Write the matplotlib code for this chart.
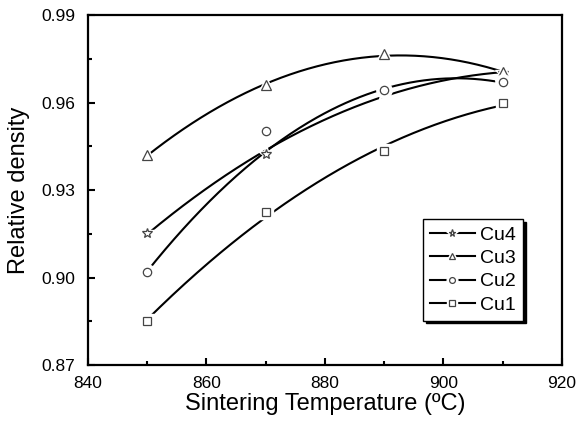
## Import libraries
import numpy as np
import matplotlib
matplotlib.use("Agg")
import matplotlib.pyplot as plt
from matplotlib.legend_handler import HandlerTuple
from matplotlib.ticker import MultipleLocator

plt.rcParams['font.family'] = ['Liberation Sans', 'DejaVu Sans']

## Data
temps = [850, 870, 890, 910]
cu4 = [0.9153, 0.9423, 0.9635, 0.9700]
cu3 = [0.9420, 0.9659, 0.9766, 0.9704]
cu2 = [0.9020, 0.9504, 0.9643, 0.9670]
cu1 = [0.8850, 0.9225, 0.9433, 0.9597]
labels = ['Cu4', 'Cu3', 'Cu2', 'Cu1']
# weight of each point in the quadratic fit (the 870 circle sits off its curve)
fit_weights = {'Cu4': [1, 1, 1, 1], 'Cu3': [1, 1, 1, 1],
               'Cu2': [1, 0.25, 1, 1], 'Cu1': [1, 1, 1, 1]}

series = {'Cu4': cu4, 'Cu3': cu3, 'Cu2': cu2, 'Cu1': cu1}
markers = {'Cu4': ('*', 7.5), 'Cu3': ('^', 7), 'Cu2': ('o', 6), 'Cu1': ('s', 5.5)}

## Figure
fig = plt.figure(figsize=(5.78, 4.33), dpi=100)
ax = fig.add_axes([0.1522, 0.157, 0.820, 0.808])

handles = []
for i, name in enumerate(labels):
    vals = series[name]
    mk, ms = markers[name]
    coef = np.polyfit(temps, vals, 2, w=fit_weights[name])
    xs = np.linspace(temps[0], temps[-1], 200)
    ln, = ax.plot(xs, np.polyval(coef, xs), color='black', lw=1.5, zorder=2)
    # white halo so the curve stops short of the symbol
    halo, = ax.plot(temps, vals, ls='none', marker=mk, ms=ms + 5,
                    mfc='white', mec='white', zorder=3 + i)
    pts, = ax.plot(temps, vals, ls='none', marker=mk, ms=ms,
                   mfc='white', mec='#444444', mew=0.9, zorder=3 + i)
    handles.append((ln, halo, pts))

## Axes styling
ax.set_xlim(840, 920)
ax.set_ylim(0.87, 0.99)
ax.xaxis.set_major_locator(MultipleLocator(20))
ax.xaxis.set_minor_locator(MultipleLocator(10))
ax.yaxis.set_major_locator(MultipleLocator(0.03))
ax.yaxis.set_minor_locator(MultipleLocator(0.015))
ax.yaxis.set_major_formatter(matplotlib.ticker.FormatStrFormatter('%.2f'))
ax.tick_params(which='both', direction='in', labelsize=12.5, width=1.5)
ax.tick_params(axis='x', pad=8)
ax.tick_params(axis='y', pad=9)
ax.tick_params(which='major', length=5)
ax.tick_params(which='minor', length=3)
for sp in ax.spines.values():
    sp.set_linewidth(1.6)

ax.set_xlabel('Sintering Temperature (ºC)', fontsize=17, labelpad=1)
ax.set_ylabel('Relative density', fontsize=17, labelpad=8)

## Legend
leg = ax.legend(handles, labels, handler_map={tuple: HandlerTuple(ndivide=1)},
                loc='upper left', bbox_to_anchor=(0.707, 0.417), borderaxespad=0,
                fontsize=14, frameon=True, fancybox=False, shadow={'color': 'black', 'alpha': 1},
                handlelength=2.3, handletextpad=0.3, labelspacing=0.3, numpoints=1,
                borderpad=0.35, markerscale=0.7)
leg.get_frame().set_edgecolor('black')
leg.get_frame().set_linewidth(1.0)

fig.savefig('out.png', dpi=100)
